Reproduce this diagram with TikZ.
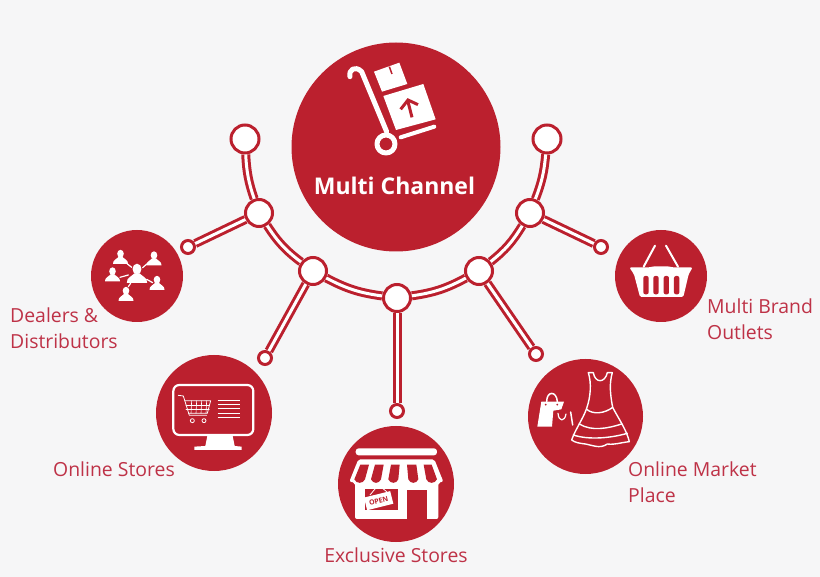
\documentclass[tikz,border=0pt]{standalone}
\usepackage{fontspec}
\setmainfont{Open Sans}
\usepackage{xcolor}
\usetikzlibrary{positioning, calc}
\definecolor{brandred}{HTML}{BB202E}
\definecolor{labelred}{HTML}{BE3247}
\definecolor{pagegray}{HTML}{F6F6F7}
\tikzset{
  disc/.style={circle, fill=brandred, inner sep=0pt, outer sep=0pt, minimum size=#1},
  joint/.style={circle, fill=white, draw=brandred, line width=3pt, inner sep=0pt, minimum size=#1},
  tube/.style={draw=brandred, line width=3pt, double=white, double distance=3pt},
  tag/.style={text=labelred, align=left, inner sep=0pt, font=\fontsize{19.4}{25.5}\selectfont},
  crop/.style 2 args={shift={(#1,#2)}, x=0.3333pt, y=-0.3333pt},
  icon/.style={draw=white, line cap=round, line join=round}
}
% one person of the dealers icon
\newcommand{\dealer}[3]{
  \begin{scope}[shift={(#1,#2)}, scale=#3]
    \fill[white] (0,-2.2) ellipse (3.3 and 4);
    \fill[white] (-7.5,8) .. controls (-7.8,4) and (-4,3.5) .. (-2,1) -- (2,1) .. controls (4,3.5) and (7.8,4) .. (7.5,8) -- cycle;
  \end{scope}
}
\begin{document}
\begin{tikzpicture}[x=1pt, y=-1pt]
  \path[use as bounding box, fill=pagegray] (0,0) rectangle (820,577);

  % big circle and the five outer ones
  \node[disc=209pt] (hub) at (396,147) {};
  \node[disc=92pt] (dealers) at (137,276) {};
  \node[disc=116pt] (online) at (214,413) {};
  \node[disc=116pt] (exclusive) at (396,484) {};
  \node[disc=115pt] (market) at (585.5,416.5) {};
  \node[disc=92pt] (brand) at (661,276) {};

  % the arc
  \node[joint=28pt] (topl) at (245,139) {};
  \node[joint=28pt] (topr) at (547,139) {};
  \node[joint=27pt] (arca) at (259,213) {};
  \node[joint=27pt] (arcb) at (313,271) {};
  \node[joint=27pt] (arcc) at (397,298) {};
  \node[joint=27pt] (arcd) at (479,271) {};
  \node[joint=27pt] (arce) at (530,213) {};
  \node[joint=13pt] (leafa) at (188,247) {};
  \node[joint=13pt] (leafb) at (265,358) {};
  \node[joint=13pt] (leafc) at (397,411) {};
  \node[joint=13pt] (leafd) at (536,354) {};
  \node[joint=13pt] (leafe) at (601,247) {};

  \draw[tube] (topl) to[bend right=8] (arca);
  \draw[tube] (arca) to[bend right=10] (arcb);
  \draw[tube] (arcb) to[bend right=10] (arcc);
  \draw[tube] (arcc) to[bend right=10] (arcd);
  \draw[tube] (arcd) to[bend right=10] (arce);
  \draw[tube] (arce) to[bend right=8] (topr);
  \draw[tube] (arca) -- (leafa);
  \draw[tube] (arcb) -- (leafb);
  \draw[tube] (arcc) -- (leafc);
  \draw[tube] (arcd) -- (leafd);
  \draw[tube] (arce) -- (leafe);

  % labels
  \node[font=\fontsize{23}{26}\selectfont\bfseries, text=white, inner sep=0pt, anchor=base] (hubtext) at (394.5,195) {Multi Channel};
  \node[tag, anchor=north west] (dealerstext) at (10,308) {Dealers \&\\Distributors};
  \node[tag, anchor=base west] (onlinetext) at (53,476) {Online Stores};
  \node[tag, anchor=base] (exclusivetext) at (396,562) {Exclusive Stores};
  \node[tag, anchor=north west] (markettext) at (628,462) {Online Market\\Place};
  \node[tag, anchor=north west] (brandtext) at (707,299) {Multi Brand\\Outlets};

  % hand truck
  \begin{scope}[crop={290}{20}]
    \draw[icon, line width=5pt] (180,170) .. controls (175,150) and (195,135) .. (215,155) -- (290,335);
    \draw[icon, line width=5pt] (288,372) circle (27);
    \draw[icon, line width=4pt] (332,352) -- (433,320);
    \fill[white] (280,228) -- (400,192) -- (437,298) -- (318,330) -- cycle;
    \fill[white] (252,155) -- (328,128) -- (352,192) -- (276,215) -- cycle;
    \draw[brandred, line width=1.5pt] (298,140) -- (306,162);
    \draw[brandred, line width=3pt] (366,292) -- (354,245);
    \draw[brandred, line width=3pt] (332,268) -- (354,240) -- (384,254);
  \end{scope}

  % people
  \begin{scope}[crop={80}{220}]
    \draw[icon, line width=1.2pt] (140,130) -- (155,142);
    \draw[icon, line width=1.2pt] (203,130) -- (188,143);
    \draw[icon, line width=1.2pt] (120,172) -- (145,165);
    \draw[icon, line width=1.2pt] (200,178) -- (218,188);
    \draw[icon, line width=1.2pt] (152,190) -- (145,200);
  \end{scope}
  \dealer{137}{272}{1.35}
  \dealer{120.5}{256}{1}
  \dealer{154}{257.5}{1}
  \dealer{112.5}{273.5}{1}
  \dealer{157}{282}{1}
  \dealer{126}{293}{1}

  % monitor with cart
  \begin{scope}[crop={150}{350}]
    \draw[icon, line width=2.2pt, rounded corners=6pt] (70,105) rectangle (310,255);
    \fill[white] (172,258) -- (248,258) -- (254,288) -- (275,290) -- (275,300) -- (133,300) -- (133,290) -- (166,288) -- cycle;
    \draw[icon, line width=0.8pt] (85,136) -- (100,138) -- (118,196) -- (170,196);
    \draw[icon, line width=0.8pt] (105,152) -- (182,152) -- (172,190) -- (115,190);
    \foreach \gx in {125,140,155,170}
      \draw[icon, line width=0.6pt] (\gx,152) -- (\gx-2,190);
    \foreach \gy in {165,178}
      \draw[icon, line width=0.6pt] (108,\gy) -- (178,\gy);
    \draw[icon, line width=0.8pt] (127,212) circle (6);
    \draw[icon, line width=0.8pt] (162,212) circle (6);
    \foreach \gy in {152,165,177,190,202}
      \draw[white, line width=1pt] (203,\gy) -- (270,\gy);
  \end{scope}

  % store front
  \begin{scope}[crop={345}{440}]
    \fill[white, rounded corners=3pt] (32,25) rectangle (276,46);
    \fill[white, rounded corners=2pt] (40,58) -- (268,58) -- (295,125) -- (280,128) -- (280,237) -- (30,237) -- (30,128) -- (13,125) -- cycle;
    \foreach \ta/\tb/\ba/\bb in {46/72/28/60, 90/116/78/108, 138/164/130/160, 186/214/190/220, 236/260/244/276}
      \fill[brandred] (\ta,74) -- (\tb,74) -- (\bb,118) .. controls (\bb-6,132) and (\ba+6,132) .. (\ba,118) -- cycle;
    \fill[brandred] (185,150) rectangle (245,237);
    \fill[brandred] (60,146) rectangle (158,210);
    \draw[white, line width=0.8pt] (75,165) -- (100,135) -- (125,155);
    \node[fill=white, rotate=14, minimum width=27pt, minimum height=13pt, inner sep=0pt, text=brandred, font=\fontsize{7}{8}\selectfont\bfseries] (opensign) at (101,182) {OPEN};
  \end{scope}

  % bag and dress
  \begin{scope}[crop={520}{350}]
    \fill[white] (64,155) -- (132,155) -- (124,178) -- (100,182) -- (96,230) -- (52,230) -- cycle;
    \draw[icon, line width=1.5pt] (80,155) .. controls (80,122) and (110,122) .. (112,155);
    \fill[brandred] (77,164) circle (3);
    \fill[brandred] (112,164) circle (3);
    \draw[icon, line width=1.2pt] (114,190) .. controls (116,216) and (134,216) .. (138,192);
    \draw[icon, line width=1.5pt] (152,186) -- (158,225);
    \draw[icon, line width=1.4pt] (205,68) -- (220,68) .. controls (225,100) and (255,100) .. (262,68) -- (277,68)
      .. controls (268,100) and (270,130) .. (278,172) .. controls (295,205) and (320,240) .. (328,275)
      .. controls (300,278) and (285,285) .. (262,282) .. controls (240,298) and (215,285) .. (196,282)
      .. controls (180,280) and (165,278) .. (155,270) .. controls (165,240) and (190,205) .. (200,175)
      .. controls (212,140) and (215,100) .. (205,68) -- cycle;
    \draw[icon, line width=1.4pt] (200,178) .. controls (220,195) and (255,190) .. (278,172);
    \draw[icon, line width=1.4pt] (178,222) .. controls (215,245) and (265,235) .. (305,222);
    \draw[icon, line width=1.4pt] (160,255) .. controls (205,270) and (270,265) .. (322,250);
  \end{scope}

  % basket
  \begin{scope}[crop={610}{225}]
    \draw[icon, line width=2pt] (101,125) -- (135,62);
    \draw[icon, line width=2pt] (204,125) -- (168,62);
    \fill[white, rounded corners=1.5pt] (58,127) -- (120,127) -- (130,124) -- (176,124) -- (186,127) -- (248,127) -- (236,148) -- (220,216) -- (90,216) -- (72,148) -- cycle;
    \foreach \sx in {100,130,161,192}
      \fill[brandred, rounded corners=2pt] (\sx,153) rectangle (\sx+16,208);
  \end{scope}
\end{tikzpicture}
\end{document}
